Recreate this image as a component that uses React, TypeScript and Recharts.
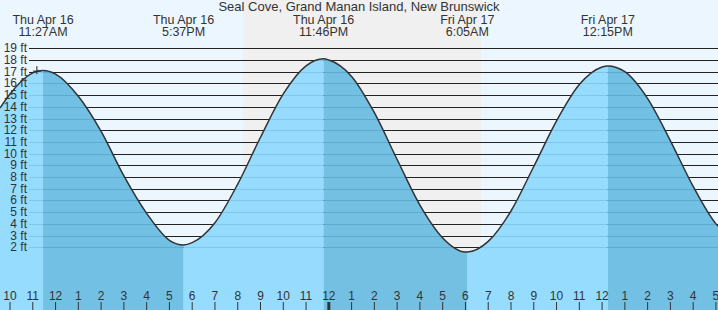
import React from 'react';
import {
  ComposedChart,
  Area,
  Line,
  XAxis,
  YAxis,
  CartesianGrid,
  ReferenceArea,
  ReferenceDot,
} from 'recharts';

const title = 'Seal Cove, Grand Manan Island, New Brunswick';

// time is in hours counted from Thu Apr 16, 00:00
const sampleHours = [
  9.56, 10, 11, 12, 13, 14, 15, 16, 17, 18, 19, 20, 21, 22, 23, 24, 25, 26, 27, 28, 29, 30, 31,
  32, 33, 34, 35, 36, 37, 38, 39, 40, 41, 41.09,
];
const sampleLevels = [
  13.9, 15.1, 16.9, 16.8, 14.9, 11.9, 8.1, 4.9, 2.6, 2.4, 4.1, 7.4, 11.4, 15.1, 17.5, 18.0, 16.6,
  13.5, 9.5, 5.6, 2.8, 1.6, 2.5, 5.1, 8.9, 12.8, 15.9, 17.4, 17.0, 14.7, 11.1, 7.2, 4.0, 3.8,
];

const extremeHours = [11.45, 17.62, 23.77, 30.08, 36.25];
const extremeLevels = [17.1, 2.2, 18.1, 1.6, 17.5];
const extremeKinds = ['H', 'L', 'H', 'L', 'H'];
const extremeDays = ['Thu Apr 16', 'Thu Apr 16', 'Thu Apr 16', 'Fri Apr 17', 'Fri Apr 17'];
const extremeClock = ['11:27AM', '5:37PM', '11:46PM', '6:05AM', '12:15PM'];

const hourTicks = [
  10, 11, 12, 13, 14, 15, 16, 17, 18, 19, 20, 21, 22, 23, 24, 25, 26, 27, 28, 29, 30, 31, 32, 33,
  34, 35, 36, 37, 38, 39, 40, 41,
];
const footTicks = [2, 3, 4, 5, 6, 7, 8, 9, 10, 11, 12, 13, 14, 15, 16, 17, 18, 19];

const sunset = 20.23;
const sunrise = 30.68;
const nowHour = 11.18;
const nowLevel = 17.05;

const font = '"Liberation Sans", Arial, sans-serif';
const textColor = '#333';

const points = [
  ...sampleHours.map((t, i) => ({ t, level: sampleLevels[i] })),
  ...extremeHours.map((t, i) => ({ t, level: extremeLevels[i] })),
].sort((a, b) => a.t - b.t);

// rising water is drawn light, falling water dark
const rows = points.map((p) => {
  const next = extremeHours.findIndex((e) => e >= p.t);
  let prev = -1;
  extremeHours.forEach((e, i) => {
    if (e <= p.t) prev = i;
  });
  const rising = (next >= 0 && extremeKinds[next] === 'H') || (prev >= 0 && extremeKinds[prev] === 'L');
  const falling = (next >= 0 && extremeKinds[next] === 'L') || (prev >= 0 && extremeKinds[prev] === 'H');
  return { t: p.t, level: p.level, rise: rising ? p.level : null, fall: falling ? p.level : null };
});

const HourTick = (props: any) => {
  const { x, payload } = props;
  const v = payload.value as number;
  const h = v % 12 === 0 ? 12 : v % 12;
  return (
    <g>
      <text x={x} y={300} textAnchor="middle" fontSize={12} fontFamily={font} fill={textColor}>
        {h}
      </text>
      <line x1={x} x2={x} y1={302} y2={310} stroke={textColor} strokeWidth={v % 24 === 0 ? 3 : 1} />
    </g>
  );
};

const ExtremeTick = (props: any) => {
  const { x, index } = props;
  return (
    <g>
      <text x={x} y={24} textAnchor="middle" fontSize={12.5} fontFamily={font} fill={textColor}>
        {extremeDays[index]}
      </text>
      <text x={x} y={36} textAnchor="middle" fontSize={12.5} fontFamily={font} fill={textColor}>
        {extremeClock[index]}
      </text>
    </g>
  );
};

const FootTick = (props: any) => {
  const { y, payload } = props;
  return (
    <text x={27} y={y + 4} textAnchor="end" fontSize={12} fontFamily={font} fill={textColor}>
      {payload.value} ft
    </text>
  );
};

const gridLine = (p: any) => {
  if (p.y1 < 2 || p.y1 > 305) return <g key={`e${p.y1}`} />;
  const y = Math.round(p.y1) + 0.5;
  return <line key={`g${y}`} x1={29} x2={p.x2} y1={y} y2={y} stroke="#222" strokeWidth={1} />;
};

const NowMark = (p: any) => (
  <g stroke="#222" strokeWidth={1}>
    <line x1={p.cx - 4} x2={p.cx + 4} y1={p.cy} y2={p.cy} />
    <line x1={p.cx} x2={p.cx} y1={p.cy - 5} y2={p.cy + 3} />
  </g>
);

export default function App() {
  return (
    <div
      style={{
        position: 'absolute',
        left: 0,
        top: 0,
        width: 718,
        height: 310,
        background: '#ECF6FF',
        fontFamily: font,
        overflow: 'hidden',
      }}
    >
      <ComposedChart width={718} height={310} data={rows} margin={{ top: -1, right: 0, bottom: -1, left: -1 }}>
        <ReferenceArea x1={sunset} x2={sunrise} fill="#F0F0F0" fillOpacity={1} stroke="none" zIndex={-150} />
        <CartesianGrid vertical={false} horizontal={gridLine} syncWithTicks />
        <XAxis
          dataKey="t"
          type="number"
          domain={[9.56, 41.09]}
          allowDataOverflow
          ticks={hourTicks}
          interval={0}
          height={1}
          axisLine={false}
          tickLine={false}
          tick={<HourTick />}
        />
        <XAxis
          xAxisId="top"
          orientation="top"
          dataKey="t"
          type="number"
          domain={[9.56, 41.09]}
          allowDataOverflow
          ticks={extremeHours}
          interval={0}
          height={1}
          axisLine={false}
          tickLine={false}
          tick={<ExtremeTick />}
        />
        <YAxis
          type="number"
          domain={[-3.36, 23.13]}
          allowDataOverflow
          ticks={footTicks}
          interval={0}
          width={1}
          axisLine={false}
          tickLine={false}
          tick={<FootTick />}
        />
        <Area
          dataKey="rise"
          type="monotone"
          baseValue="dataMin"
          fill="#8DD9FF"
          fillOpacity={0.9}
          stroke="none"
          isAnimationActive={false}
          activeDot={false}
        />
        <Area
          dataKey="fall"
          type="monotone"
          baseValue="dataMin"
          fill="#65BAE1"
          fillOpacity={0.9}
          stroke="none"
          isAnimationActive={false}
          activeDot={false}
        />
        <Line
          dataKey="level"
          type="monotone"
          stroke="#333"
          strokeWidth={1.5}
          dot={false}
          activeDot={false}
          isAnimationActive={false}
        />
        <ReferenceDot x={nowHour} y={nowLevel} shape={NowMark} />
      </ComposedChart>
      <div
        style={{
          position: 'absolute',
          left: 0,
          top: 0,
          width: 718,
          textAlign: 'center',
          fontSize: 13,
          lineHeight: '13px',
          color: textColor,
        }}
      >
        {title}
      </div>
    </div>
  );
}
